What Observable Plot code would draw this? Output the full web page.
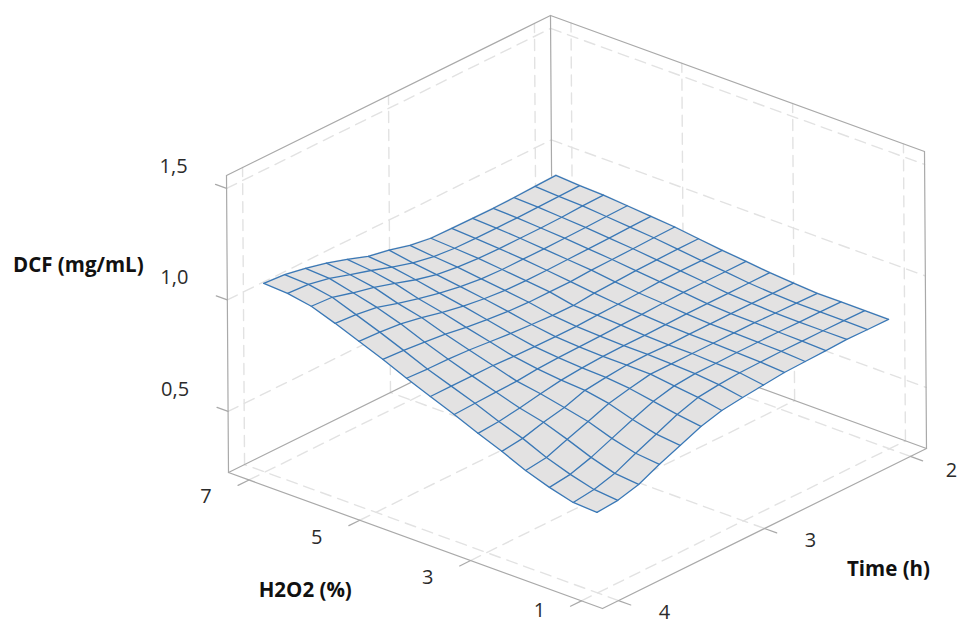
<!DOCTYPE html>
<html>
<head>
<meta charset="utf-8">
<style>html,body{margin:0;padding:0;background:#fff}svg{display:block}</style>
<script src="https://cdn.jsdelivr.net/npm/d3@7"></script>
<script src="https://cdn.jsdelivr.net/npm/@observablehq/plot@0.6"></script>
</head>
<body>
<div id="chart"></div>
<script>
// Tick values
const timeTicks = [2, 3, 4];
const h2o2Ticks = [7, 5, 3, 1];
const dcfTicks = [0.5, 1.0, 1.5];
const dcfTickLabels = ["0,5", "1,0", "1,5"];

// Surface sample positions
const h2o2Levels = [7, 6.571, 6.143, 5.714, 5.286, 4.857, 4.429, 4, 3.571, 3.143, 2.714, 2.286, 1.857, 1.429, 1];
const timeLevels = [2, 2.143, 2.286, 2.429, 2.571, 2.714, 2.857, 3, 3.143, 3.286, 3.429, 3.571, 3.714, 3.857, 4];

// DCF (mg/mL) read from the surface: one row per H2O2 level, one value per time level
const dcf = [
  [.910,.907,.903,.901,.902,.903,.905,.919,.944,.962,.995,1.024,1.047,1.065,1.072],
  [.903,.901,.899,.897,.897,.897,.899,.908,.926,.953,.984,1.011,1.041,1.060,1.066],
  [.899,.897,.892,.890,.890,.890,.892,.899,.912,.935,.965,.993,1.015,1.041,1.047],
  [.890,.888,.885,.883,.881,.881,.881,.885,.897,.914,.935,.960,.988,1.002,1.009],
  [.881,.879,.876,.874,.872,.870,.870,.872,.881,.894,.912,.935,.953,.962,.967],
  [.872,.870,.867,.865,.863,.858,.858,.858,.863,.872,.884,.899,.910,.919,.925],
  [.858,.858,.856,.854,.849,.845,.836,.838,.843,.849,.858,.867,.872,.874,.879],
  [.845,.845,.845,.843,.838,.834,.831,.827,.827,.829,.831,.836,.836,.836,.836],
  [.834,.834,.834,.834,.831,.827,.825,.822,.820,.818,.814,.805,.802,.798,.794],
  [.822,.822,.822,.822,.822,.820,.818,.818,.816,.811,.802,.787,.769,.755,.748],
  [.814,.814,.816,.816,.816,.816,.814,.818,.816,.807,.795,.764,.744,.718,.706],
  [.807,.809,.811,.814,.814,.814,.814,.814,.814,.796,.775,.740,.706,.671,.659],
  [.807,.809,.809,.811,.811,.811,.809,.809,.800,.777,.742,.703,.664,.634,.622],
  [.807,.808,.809,.809,.809,.807,.805,.798,.787,.757,.715,.675,.631,.605,.593],
  [.806,.807,.809,.805,.802,.799,.789,.779,.767,.742,.703,.664,.620,.595,.587]
];

// Axis ranges of the box
const hMin = 0.62, hMax = 7.37, tMin = 1.89, tMax = 4.11, zMin = 0.226, zMax = 1.558;

// Oblique view of the box, expressed in the page's plotting units
const view = {ox: 552, oy: 312, hx: 374, hy: 136, tx: -324, ty: 160, zx: -2, zy: -297};
const frac = (v, a, b) => (v - a) / (b - a);
const px = (h, t, z) => view.ox + (1 - frac(h, hMin, hMax)) * view.hx + frac(t, tMin, tMax) * view.tx + frac(z, zMin, zMax) * view.zx;
const py = (h, t, z) => view.oy + (1 - frac(h, hMin, hMax)) * view.hy + frac(t, tMin, tMax) * view.ty + frac(z, zMin, zMax) * view.zy;
const X = d => px(d.h, d.t, d.z);
const Y = d => py(d.h, d.t, d.z);

// Surface as strips and mesh lines
const strips = [];
for (let i = 0; i < h2o2Levels.length - 1; i++) {
  timeLevels.forEach((t, j) => strips.push({
    s: i,
    x1: px(h2o2Levels[i], t, dcf[i][j]), y1: py(h2o2Levels[i], t, dcf[i][j]),
    x2: px(h2o2Levels[i + 1], t, dcf[i + 1][j]), y2: py(h2o2Levels[i + 1], t, dcf[i + 1][j])
  }));
}
const mesh = [];
h2o2Levels.forEach((h, i) => timeLevels.forEach((t, j) => mesh.push({s: "h" + i, h, t, z: dcf[i][j]})));
timeLevels.forEach((t, j) => h2o2Levels.forEach((h, i) => mesh.push({s: "t" + j, h, t, z: dcf[i][j]})));

// Segment helper: each segment is a pair of box points
const seg = (s, a, b) => [{s, h: a[0], t: a[1], z: a[2]}, {s, h: b[0], t: b[1], z: b[2]}];

// Box frame
const frame = [
  seg("a", [hMax, tMax, zMin], [hMax, tMax, zMax]),
  seg("b", [hMax, tMin, zMin], [hMax, tMin, zMax]),
  seg("c", [hMin, tMin, zMin], [hMin, tMin, zMax]),
  seg("d", [hMax, tMax, zMax], [hMax, tMin, zMax]),
  seg("e", [hMax, tMin, zMax], [hMin, tMin, zMax]),
  seg("f", [hMax, tMax, zMin], [hMax, tMin, zMin]),
  seg("g", [hMax, tMin, zMin], [hMin, tMin, zMin]),
  seg("h", [hMax, tMax, zMin], [hMin, tMax, zMin]),
  seg("i", [hMin, tMax, zMin], [hMin, tMin, zMin])
].flat();

// Dashed grid on the floor and the two back walls
const grid = [
  ...timeTicks.flatMap(t => [
    seg("ft" + t, [hMin, t, zMin], [hMax, t, zMin]),
    seg("wt" + t, [hMax, t, zMin], [hMax, t, zMax])
  ]),
  ...h2o2Ticks.flatMap(h => [
    seg("fh" + h, [h, tMax, zMin], [h, tMin, zMin]),
    seg("wh" + h, [h, tMin, zMin], [h, tMin, zMax])
  ]),
  ...dcfTicks.flatMap(z => [
    seg("zl" + z, [hMax, tMax, z], [hMax, tMin, z]),
    seg("zr" + z, [hMax, tMin, z], [hMin, tMin, z])
  ])
].flat();

// Outward tick marks
const ticks = [
  ...timeTicks.map(t => seg("tt" + t, [hMin, t, zMin], [hMin - 0.22, t, zMin])),
  ...h2o2Ticks.map(h => seg("th" + h, [h, tMax, zMin], [h, tMax + 0.075, zMin])),
  ...dcfTicks.map(z => seg("tz" + z, [hMax, tMax, z], [hMax + 0.2, tMax, z]))
].flat();

const labelFont = {fontFamily: "'Open Sans', sans-serif", fontSize: 20, fill: "#2b2b2b"};
const titleFont = {fontFamily: "'Open Sans', sans-serif", fontSize: 20.5, fontWeight: 700, fill: "#111"};

const chart = Plot.plot({
  width: 960,
  height: 624,
  margin: 0,
  x: {domain: [0, 960], range: [0, 960], axis: null},
  y: {domain: [0, 624], range: [0, 624], axis: null},
  style: {background: "#fff"},
  marks: [
    Plot.line(grid, {x: X, y: Y, z: "s", stroke: "#e2e2e2", strokeWidth: 1.4, strokeDasharray: "11,7"}),
    Plot.line(frame, {x: X, y: Y, z: "s", stroke: "#a9a9a9", strokeWidth: 1.2}),
    Plot.line(ticks, {x: X, y: Y, z: "s", stroke: "#a9a9a9", strokeWidth: 1.2}),
    Plot.area(strips, {x1: "x1", y1: "y1", x2: "x2", y2: "y2", z: "s", fill: "#e3e2e2", stroke: "#e3e2e2", strokeWidth: 0.6}),
    Plot.line(mesh, {x: X, y: Y, z: "s", stroke: "#3a78b6", strokeWidth: 1.3}),
    Plot.text(dcfTicks, {x: z => px(hMax, tMax, z), y: z => py(hMax, tMax, z), text: (z, i) => dcfTickLabels[i], dx: -53, dy: -22, ...labelFont}),
    Plot.text(h2o2Ticks.filter(h => h > 1), {x: h => px(h, tMax, zMin), y: h => py(h, tMax, zMin), text: h => String(h), dx: -43, dy: 17, ...labelFont}),
    Plot.text(h2o2Ticks.filter(h => h === 1), {x: h => px(h, tMax, zMin), y: h => py(h, tMax, zMin), text: h => String(h), dx: -42, dy: 10, ...labelFont}),
    Plot.text(timeTicks.filter(t => t > 2), {x: t => px(hMin, t, zMin), y: t => py(hMin, t, zMin), text: t => String(t), dx: 46, dy: 12, ...labelFont}),
    Plot.text(timeTicks.filter(t => t === 2), {x: t => px(hMin, t, zMin), y: t => py(hMin, t, zMin), text: t => String(t), dx: 41, dy: 14, ...labelFont}),
    Plot.text(["DCF (mg/mL)"], {x: () => px(hMax, tMax, 1), y: () => py(hMax, tMax, 1), text: d => d, dx: -149, dy: -34, ...titleFont}),
    Plot.text(["H2O2 (%)"], {x: () => px(4, tMax, zMin), y: () => py(4, tMax, zMin), text: d => d, dx: -110, dy: 50, ...titleFont}),
    Plot.text(["Time (h)"], {x: () => px(hMin, 3, zMin), y: () => py(hMin, 3, zMin), text: d => d, dx: 124, dy: 41, ...titleFont})
  ]
});
document.getElementById("chart").appendChild(chart);
</script>
</body>
</html>
